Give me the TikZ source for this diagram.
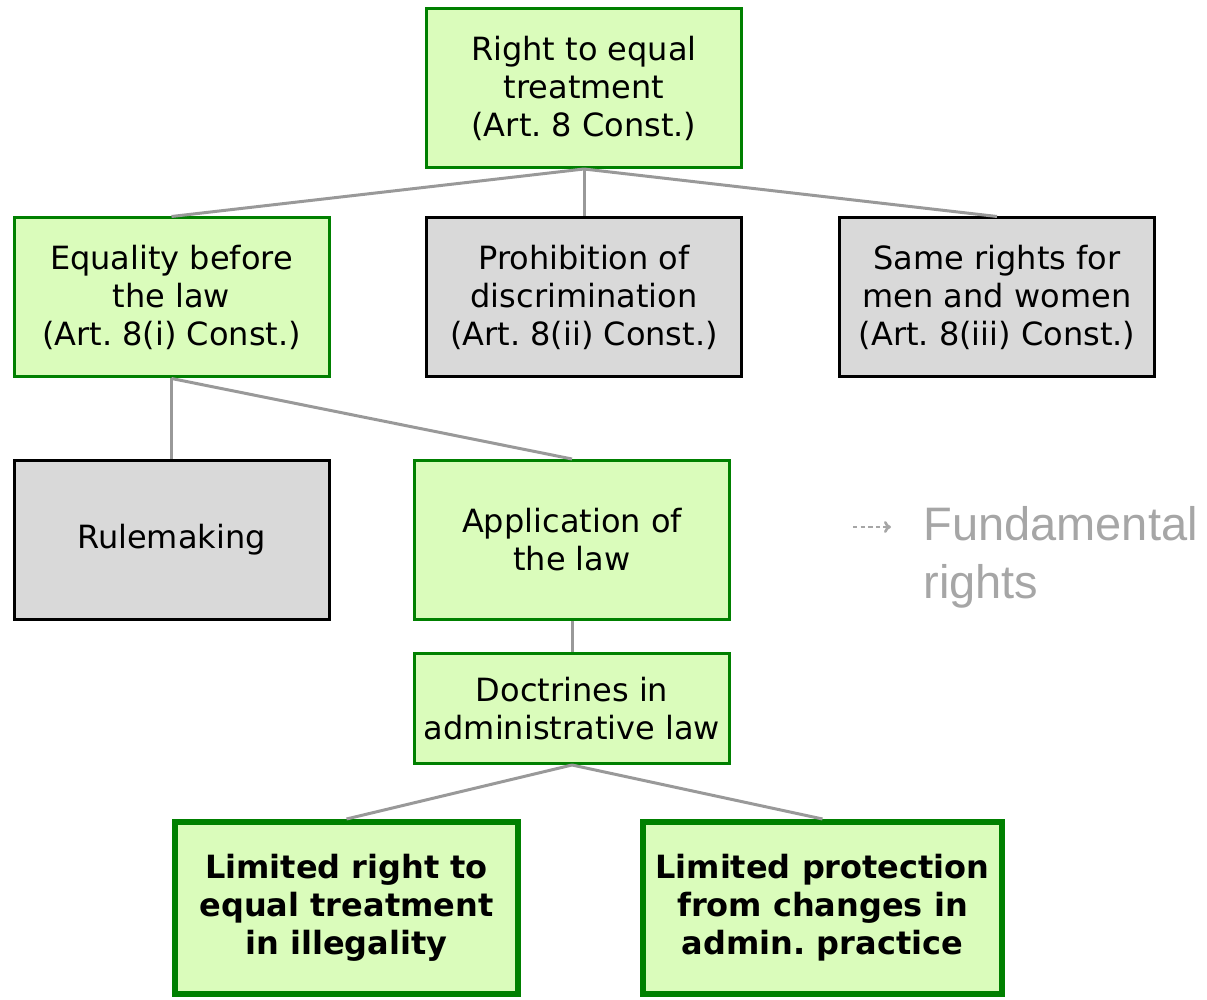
\documentclass[tikz,border=0pt]{standalone}
\usepackage{fontspec}
\setmainfont{DejaVu Sans}
\newfontfamily\arialfont{Liberation Sans}
\usetikzlibrary{arrows.meta}
\definecolor{boxgreen}{HTML}{DAFCBB}
\definecolor{edgegreen}{HTML}{008000}
\definecolor{boxgray}{HTML}{D9D9D9}
\definecolor{linegray}{HTML}{999999}
\definecolor{notegray}{HTML}{A6A6A6}

\begin{document}
\begin{tikzpicture}[x=0.5pt,y=-0.5pt,
  box/.style={draw,line width=1.5pt,align=center,minimum width=157.5pt,minimum height=79.5pt,
    font=\fontsize{16}{19}\selectfont,inner sep=0pt},
  greenbox/.style={box,draw=edgegreen,fill=boxgreen},
  graybox/.style={box,draw=black,fill=boxgray},
  endbox/.style={greenbox,line width=3pt,minimum height=86pt,font=\fontsize{16}{19}\selectfont\bfseries},
  link/.style={draw=linegray,line width=1.5pt}]
\useasboundingbox (0,0) rectangle (1207,1000);
% boxes
\node[greenbox] (equal) at (584,88) {Right to equal\\treatment\\(Art.~8 Const.)};
\node[greenbox] (before) at (171.5,297.5) {Equality before\\the law\\(Art.~8(i) Const.)};
\node[graybox] (discr) at (584,297.5) {Prohibition of\\discrimination\\(Art.~8(ii) Const.)};
\node[graybox] (same) at (997,297.5) {Same rights for\\men and women\\(Art.~8(iii) Const.)};
\node[graybox] (rule) at (171.5,540) {Rulemaking};
\node[greenbox] (apply) at (572,540) {Application of\\the law};
\node[greenbox,minimum height=55pt] (doctr) at (572,708.5) {Doctrines in\\administrative law};
\node[endbox,minimum width=171.5pt] (illeg) at (346.5,908) {Limited right to\\equal treatment\\in illegality};
\node[endbox,minimum width=179.5pt] (protect) at (822.5,908) {Limited protection\\from changes in\\admin.~practice};
% links
\draw[link] (equal.south) -- (before.north);
\draw[link] (equal.south) -- (discr.north);
\draw[link] (equal.south) -- (same.north);
\draw[link] (before.south) -- (rule.north);
\draw[link] (before.south) -- (apply.north);
\draw[link] (apply.south) -- (doctr.north);
\draw[link] (doctr.south) -- (illeg.north);
\draw[link] (doctr.south) -- (protect.north);
% note
\node[anchor=west,align=left,inner sep=0pt,text=notegray,
  font=\arialfont\fontsize{23.5}{29}\selectfont] (fund) at (923,557) {Fundamental\\rights};
\coordinate (fa) at (853,527);
\coordinate (fb) at (891,527);
\draw[notegray,line width=1.3pt,dash pattern=on 2.2pt off 1.6pt,-{To[length=3.5pt,width=6pt]}] (fa) -- (fb);
\end{tikzpicture}
\end{document}
